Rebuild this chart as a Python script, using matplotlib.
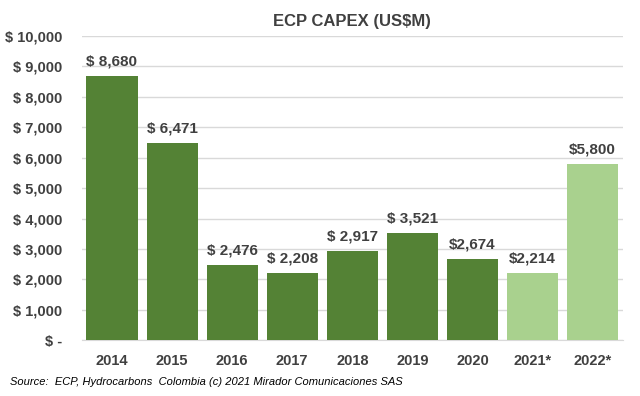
import matplotlib.pyplot as plt
from matplotlib.ticker import FuncFormatter

years = ['2014', '2015', '2016', '2017', '2018', '2019', '2020', '2021*', '2022*']
capex = [8680, 6471, 2476, 2208, 2917, 3521, 2674, 2214, 5800]
labels = ['$ 8,680', '$ 6,471', '$ 2,476', '$ 2,208', '$ 2,917', '$ 3,521',
          '$2,674', '$2,214', '$5,800']
estimate = [False] * 7 + [True, True]

plt.rcParams['font.family'] = ['Liberation Sans', 'DejaVu Sans']
txt = '#404040'

fig = plt.figure(figsize=(6.4, 3.96), dpi=100)
ax = fig.add_axes([0.128, 0.141, 0.845, 0.768])

colors = ['#A9D18E' if e else '#548235' for e in estimate]
x = range(len(years))
bars = ax.bar(x, capex, width=0.85, color=colors, zorder=3)

for b, lab in zip(bars, labels):
    ax.text(b.get_x() + b.get_width() / 2, b.get_height() + 250, lab.replace('$', r'\$'),
            ha='center', va='bottom', fontsize=11, fontweight='bold', color=txt)

ax.set_ylim(0, 10000)
ax.set_xlim(-0.5, len(years) - 0.5)
ax.set_yticks(range(0, 10001, 1000))
ax.yaxis.set_major_formatter(FuncFormatter(
    lambda v, p: r'\$ -' if v == 0 else r'\$ {:,.0f}'.format(v)))
ax.set_xticks(list(x))
ax.set_xticklabels(years)
ax.tick_params(axis='both', length=0, labelsize=10.5, labelcolor=txt)
ax.tick_params(axis='x', pad=10)
ax.tick_params(axis='y', pad=14)
for t in ax.get_xticklabels() + ax.get_yticklabels():
    t.set_fontweight('bold')

ax.grid(axis='y', color='#D9D9D9', linewidth=1, zorder=0)
for s in ['top', 'right', 'left']:
    ax.spines[s].set_visible(False)
ax.spines['bottom'].set_color('#D9D9D9')

fig.text(0.55, 0.945, r'ECP CAPEX (US\$M)', ha='center', va='center',
         fontsize=12, fontweight='bold', color=txt)
fig.text(0.016, 0.035, 'Source:  ECP, Hydrocarbons  Colombia (c) 2021 Mirador Comunicaciones SAS',
         ha='left', va='center', fontsize=8, style='italic', color='#000000')

plt.savefig('out.png', dpi=100)
